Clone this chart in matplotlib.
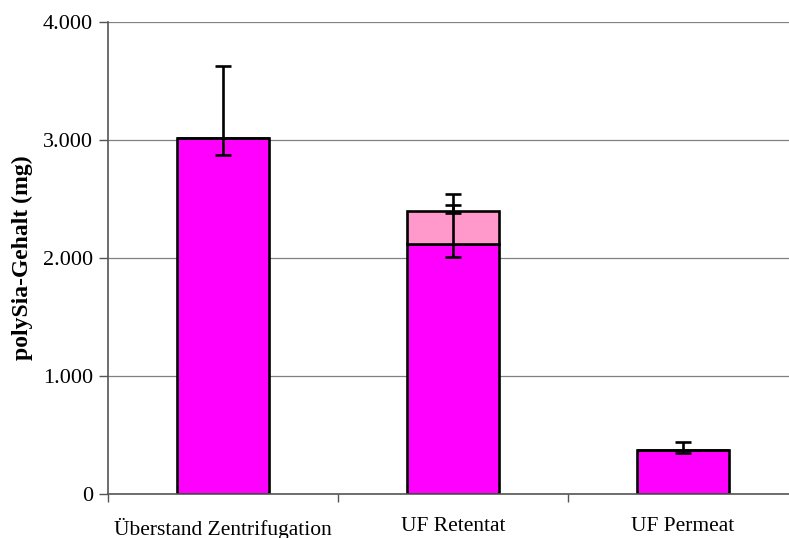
import numpy as np
import matplotlib.pyplot as plt
from matplotlib.ticker import FuncFormatter

categories = ["Überstand Zentrifugation", "UF Retentat", "UF Permeat"]
base_values = [3020, 2120, 375]
top_values = [0, 280, 0]

# Fehlerbalken (untere Serie)
base_err_low = [150, 110, 25]
base_err_high = [610, 330, 65]
# Fehlerbalken (obere Serie, nur UF Retentat)
top_err_low = [0, 20, 0]
top_err_high = [0, 145, 0]

plt.rcParams["font.family"] = ["Liberation Serif", "DejaVu Serif"]

fig = plt.figure(figsize=(7.89, 5.38), dpi=100)
ax = fig.add_axes([0.137, 0.082, 0.8745, 0.877])

x = np.arange(len(categories))
width = 0.4

ax.bar(x, base_values, width, color="#FF00FF", edgecolor="black", linewidth=1.9, zorder=2)
ax.bar(x, top_values, width, bottom=base_values, color="#FF99CC",
       edgecolor="black", linewidth=1.9, zorder=2)

ax.errorbar(x, base_values, yerr=[base_err_low, base_err_high], fmt="none",
            ecolor="black", elinewidth=1.9, capsize=5.8, capthick=1.9, zorder=3)
tops = np.array(base_values) + np.array(top_values)
mask = np.array(top_values) > 0
ax.errorbar(x[mask], tops[mask],
            yerr=[np.array(top_err_low)[mask], np.array(top_err_high)[mask]],
            fmt="none", ecolor="black", elinewidth=1.9, capsize=5.8, capthick=1.9, zorder=3)

ax.set_xlim(-0.5, 2.5)
ax.set_ylim(0, 4000)
ax.set_yticks([0, 1000, 2000, 3000, 4000])
ax.yaxis.set_major_formatter(FuncFormatter(lambda v, p: f"{int(v):,}".replace(",", ".")))
ax.grid(axis="y", color="#808080", linewidth=0.9, zorder=0)
ax.set_axisbelow(True)

ax.set_xticks([-0.5, 0.5, 1.5, 2.5])
ax.set_xticklabels([])
ax.set_xticks(x, minor=True)
ax.set_xticklabels(categories, minor=True)
ax.tick_params(axis="x", which="minor", length=0, pad=17, labelsize=15.5)
ax.tick_params(axis="x", which="major", length=6, color="#555555", width=1)
ax.tick_params(axis="y", length=6.5, color="#555555", width=1, labelsize=16, pad=4.3)

for s in ["top", "right"]:
    ax.spines[s].set_visible(False)
for s in ["left", "bottom"]:
    ax.spines[s].set_color("#555555")
    ax.spines[s].set_linewidth(1.2)

fig.text(22 / 789, 0.521, "polySia-Gehalt (mg)", rotation=90, ha="center", va="center",
         fontsize=17, fontweight="bold")

fig.savefig("out.png", dpi=100)
